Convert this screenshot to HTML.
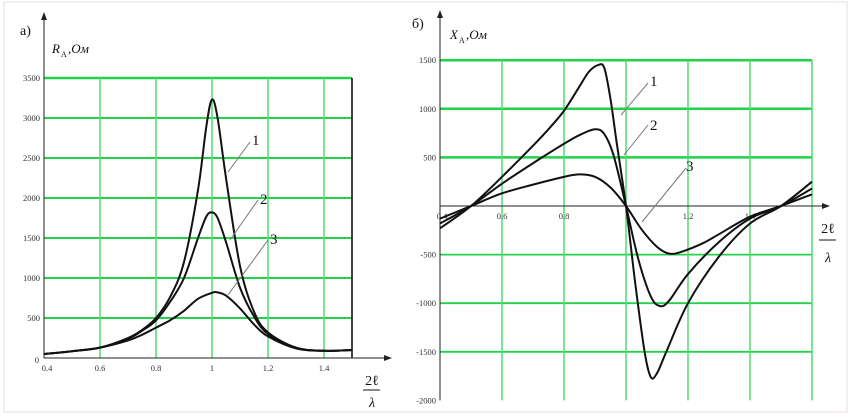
<!DOCTYPE html>
<html><head><meta charset="utf-8"><style>
html,body{margin:0;padding:0;background:#fff;}
svg{display:block;font-family:"Liberation Serif",serif;}
</style></head><body>
<svg id="fig" width="850" height="418" viewBox="0 0 850 418">
<rect x="4" y="2" width="843" height="410" fill="none" stroke="#eadede" stroke-width="1"/>
<g id="left"></g>
<g id="right"></g>
</svg>
<script>
// ---- chart a) R ----
const rXs1 = [0.4,0.5,0.6,0.7,0.75,0.8,0.85,0.9,0.95,0.98,1.0,1.02,1.05,1.1,1.15,1.2,1.3,1.4,1.5];
const rCurve1 = [50,85,130,250,350,500,760,1200,2100,2900,3230,3000,2250,1150,580,320,130,90,100];
const rXs2 = [0.4,0.5,0.6,0.7,0.75,0.8,0.85,0.9,0.95,0.98,1.0,1.02,1.05,1.1,1.15,1.2,1.3,1.4,1.5];
const rCurve2 = [50,85,130,240,340,470,700,1000,1500,1770,1820,1750,1450,880,520,300,125,90,100];
const rXs3 = [0.4,0.5,0.6,0.7,0.75,0.8,0.85,0.9,0.95,1.0,1.02,1.05,1.1,1.15,1.2,1.3,1.4,1.5];
const rCurve3 = [50,85,130,220,290,380,470,590,740,815,820,780,620,420,270,120,90,100];
const rXTicks = ["0.4","0.6","0.8","1","1.2","1.4"];
const rXTickVals = [0.4,0.6,0.8,1.0,1.2,1.4];
const rYTicks = [0,500,1000,1500,2000,2500,3000,3500];
// ---- chart б) X ----
const xXs1 = [0.4,0.5,0.6,0.7,0.75,0.8,0.85,0.88,0.91,0.93,0.95,0.97,1.0,1.03,1.06,1.08,1.1,1.13,1.2,1.3,1.4,1.5,1.6];
const xCurve1 = [-230,0,300,620,790,980,1230,1380,1450,1420,1100,650,0,-800,-1500,-1760,-1720,-1500,-1000,-520,-180,0,250];
const xXs2 = [0.4,0.5,0.6,0.7,0.8,0.85,0.9,0.93,0.96,1.0,1.04,1.08,1.11,1.14,1.2,1.3,1.4,1.5,1.6];
const xCurve2 = [-180,0,230,440,640,730,790,740,520,0,-550,-930,-1030,-970,-700,-370,-130,0,180];
const xXs3 = [0.4,0.5,0.6,0.7,0.8,0.85,0.9,0.95,1.0,1.05,1.1,1.14,1.18,1.25,1.3,1.4,1.5,1.6];
const xCurve3 = [-130,0,130,220,300,325,300,190,0,-240,-420,-490,-470,-380,-290,-110,0,120];
const xXTicks = ["0.4","0.6","0.8","1.2","1.4"];
const xXTickVals = [0.4,0.6,0.8,1.2,1.4];
const xYTicks = [1500,1000,500,-500,-1000,-1500,-2000];

const NS="http://www.w3.org/2000/svg";
function mk(parent,tag,attrs){const e=document.createElementNS(NS,tag);for(const k in attrs)e.setAttribute(k,attrs[k]);parent.appendChild(e);return e;}
function smooth(pts){let d="M"+pts[0][0]+","+pts[0][1];for(let i=0;i<pts.length-1;i++){const p0=pts[Math.max(0,i-1)],p1=pts[i],p2=pts[i+1],p3=pts[Math.min(pts.length-1,i+2)];const c1x=p1[0]+(p2[0]-p0[0])/6,c1y=p1[1]+(p2[1]-p0[1])/6,c2x=p2[0]-(p3[0]-p1[0])/6,c2y=p2[1]-(p3[1]-p1[1])/6;d+=" C"+c1x+","+c1y+" "+c2x+","+c2y+" "+p2[0]+","+p2[1];}return d;}

// Left chart
const L=document.getElementById('left');
const lx=v=>44+(v-0.4)/0.2*56;
const ly=v=>358-v/500*40;
rYTicks.forEach(t=>{if(t===0)return;
 const g=mk(L,'line',{x1:lx(0.4),x2:lx(1.5),y1:ly(t),y2:ly(t),stroke:'#22d24a','stroke-width':t===3500?2.5:2});
 
 const tx=mk(L,'text',{x:40,y:ly(t)+3,'font-size':8.5,'text-anchor':'end',fill:'#333'});tx.textContent=t;
 
});
rXTickVals.forEach((v,i)=>{
 if(i>0){const g=mk(L,'line',{x1:lx(v),x2:lx(v),y1:ly(3500),y2:ly(0),stroke:'#50dc70','stroke-width':1.5});
 }
 const tx=mk(L,'text',{x:lx(v)+(i===0?3:0),y:371,'font-size':8.5,'text-anchor':'middle',fill:'#333'});tx.textContent=rXTicks[i];
 
});
{const t=mk(L,'text',{x:39,y:363,'font-size':8.5,'text-anchor':'end',fill:'#333'});t.textContent='0';
}
mk(L,'line',{x1:lx(1.5),x2:lx(1.5),y1:ly(3500),y2:ly(0),stroke:'#000','stroke-width':1.5});
mk(L,'line',{x1:44,x2:44,y1:16,y2:358,stroke:'#222','stroke-width':1});
mk(L,'path',{d:'M41,20 L44,12 L47,20 Z',fill:'#222'});
mk(L,'line',{x1:44,x2:388,y1:358,y2:358,stroke:'#222','stroke-width':1});
mk(L,'path',{d:'M384,355 L392,358 L384,361 Z',fill:'#222'});
[[rXs1,rCurve1],[rXs2,rCurve2],[rXs3,rCurve3]].forEach((c,k)=>{
 const p=mk(L,'path',{d:smooth(c[0].map((x,i)=>[lx(x),ly(c[1][i])])),fill:'none',stroke:'#111','stroke-width':2});
 
});
[[228,172,250,142,'1',252,145],[230,240,258,200,'2',260,204],[228,295,268,240,'3',270,244]].forEach(a=>{
 mk(L,'line',{x1:a[0],y1:a[1],x2:a[2],y2:a[3],stroke:'#777','stroke-width':1});
 const t=mk(L,'text',{x:a[5],y:a[6],'font-size':15,fill:'#111'});t.textContent=a[4];
 
});
{let t=mk(L,'text',{x:20,y:35,'font-size':14,fill:'#111'});t.textContent='а)';
t=mk(L,'text',{x:52,y:53,'font-size':13,'font-style':'italic',fill:'#111'});t.textContent='R';
let s=mk(L,'text',{x:61,y:57,'font-size':8,fill:'#111'});s.textContent='A';
s=mk(L,'text',{x:68,y:53,'font-size':13,'font-style':'italic',fill:'#111'});s.textContent=',Ом';
t=mk(L,'text',{x:372,y:385,'font-size':14,fill:'#111','text-anchor':'middle'});t.textContent='2ℓ';
mk(L,'line',{x1:363,x2:380,y1:390,y2:390,stroke:'#111','stroke-width':1});
s=mk(L,'text',{x:372,y:407,'font-size':14,'font-style':'italic',fill:'#111','text-anchor':'middle'});s.textContent='λ';}

// Right chart
const R=document.getElementById('right');
const rx=v=>440+(v-0.4)/0.2*62;
const ry=v=>206-v/500*48.6;
xYTicks.forEach(t=>{
 if(t!==-2000){const g=mk(R,'line',{x1:rx(0.4),x2:rx(1.6),y1:ry(t),y2:ry(t),stroke:'#22d24a','stroke-width':t>0?2.5:1.8});
 }
 const tx=mk(R,'text',{x:436,y:ry(t)+3,'font-size':8.5,'text-anchor':'end',fill:'#333'});tx.textContent=t;
 
});
[0.6,0.8,1.0,1.2,1.4,1.6].forEach(v=>{
 const g=mk(R,'line',{x1:rx(v),x2:rx(v),y1:ry(1500),y2:ry(-2000),stroke:'#50dc70','stroke-width':1.5});
 
});
xXTickVals.forEach((v,i)=>{
 const tx=mk(R,'text',{x:rx(v)+(i===0?2:0),y:219,'font-size':8.5,'text-anchor':'middle',fill:'#333'});tx.textContent=xXTicks[i];
 
});
mk(R,'line',{x1:440,x2:440,y1:14,y2:ry(-2000),stroke:'#222','stroke-width':1});
mk(R,'path',{d:'M437,18 L440,10 L443,18 Z',fill:'#222'});
mk(R,'line',{x1:440,x2:826,y1:206,y2:206,stroke:'#222','stroke-width':1});
mk(R,'path',{d:'M822,203 L830,206 L822,209 Z',fill:'#222'});
[[xXs1,xCurve1],[xXs2,xCurve2],[xXs3,xCurve3]].forEach((c,k)=>{
 const p=mk(R,'path',{d:smooth(c[0].map((x,i)=>[rx(x),ry(c[1][i])])),fill:'none',stroke:'#111','stroke-width':2});
 
});
[[621,115,648,83,'1',650,86],[624,155,648,125,'2',650,130],[642,222,686,168,'3',686,171]].forEach(a=>{
 mk(R,'line',{x1:a[0],y1:a[1],x2:a[2],y2:a[3],stroke:'#777','stroke-width':1});
 const t=mk(R,'text',{x:a[5],y:a[6],'font-size':15,fill:'#111'});t.textContent=a[4];
 
});
{let t=mk(R,'text',{x:412,y:28,'font-size':14,fill:'#111'});t.textContent='б)';
t=mk(R,'text',{x:450,y:39,'font-size':13,'font-style':'italic',fill:'#111'});t.textContent='X';
let s=mk(R,'text',{x:459,y:43,'font-size':8,fill:'#111'});s.textContent='A';
s=mk(R,'text',{x:466,y:39,'font-size':13,'font-style':'italic',fill:'#111'});s.textContent=',Ом';
t=mk(R,'text',{x:828,y:233,'font-size':14,fill:'#111','text-anchor':'middle'});t.textContent='2ℓ';
mk(R,'line',{x1:819,x2:836,y1:240,y2:240,stroke:'#111','stroke-width':1});
s=mk(R,'text',{x:828,y:262,'font-size':14,'font-style':'italic',fill:'#111','text-anchor':'middle'});s.textContent='λ';}
</script>
</body></html>
